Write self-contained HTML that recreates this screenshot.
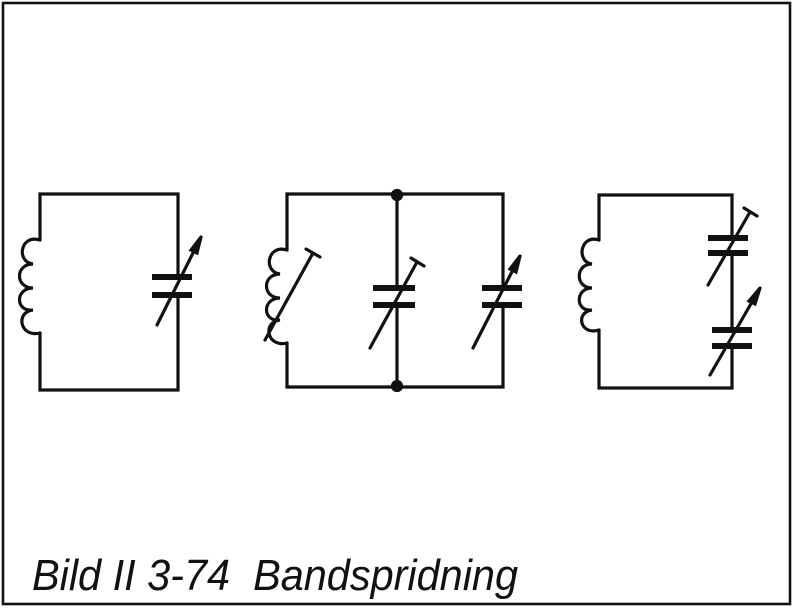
<!DOCTYPE html>
<html><head><meta charset="utf-8"><style>
html,body{margin:0;padding:0;background:#fff;width:795px;height:615px;overflow:hidden}
svg{display:block}
</style></head><body>
<svg width="795" height="615" viewBox="0 0 795 615">
<g fill="none" stroke="#111" stroke-width="3.2" stroke-linecap="round">
<rect x="3" y="3" width="787" height="601" stroke-width="2.6"/>

<!-- circuit 1 -->
<g>
<path d="M40 240 V194 H178 V277 M178 295 V390 H40 V333"/>
<path d="M40 240 C20 234 16 262 33 264 C15 264 15 288 33 288 C15 288 15 312 33 310 C15 312 20 338 40 333"/>
<path stroke-width="6" stroke-linecap="butt" d="M152 277 H192 M152 295 H192"/>
<path d="M157 325 L201 237"/>
<path d="M201 237 L191 250 L197 253 Z" fill="#111"/>
</g>

<!-- circuit 2 -->
<g>
<path d="M287 250 V194 H503 V288 M503 305 V387 H287 V343"/>
<path d="M397 194 V288 M397 305 V387"/>
<circle cx="397" cy="195" r="4.5" fill="#111"/>
<circle cx="397" cy="386" r="4.5" fill="#111"/>
<path d="M287 250 C267 244 263 272 280 274 C262 274 262 298 280 298 C262 298 262 322 280 320 C262 322 267 348 287 343"/>
<path d="M265 340 L313 253 M306 249 L320 257"/>
<path stroke-width="6" stroke-linecap="butt" d="M373 288 H415 M373 305 H415"/>
<path d="M370 348 L417 262 M411 258 L424 266"/>
<path stroke-width="6" stroke-linecap="butt" d="M482 288 H522 M482 305 H522"/>
<path d="M473 348 L520 256"/>
<path d="M520 256 L510 269 L516 272 Z" fill="#111"/>
</g>

<!-- circuit 3 -->
<g>
<path d="M599 240 V195 H732 V238 M732 253 V330 M732 346 V388 H599 V330"/>
<path d="M599 240 C580 234 576 262 592 264 C575 264 575 288 592 288 C575 288 575 312 592 310 C575 312 580 336 599 330"/>
<path stroke-width="6" stroke-linecap="butt" d="M708 238 H748 M708 253 H748"/>
<path d="M708 285 L750 212 M744 208 L757 216"/>
<path stroke-width="6" stroke-linecap="butt" d="M712 330 H752 M712 346 H752"/>
<path d="M710 375 L760 288"/>
<path d="M760 288 L749 301 L755 304 Z" fill="#111"/>
</g>
</g>
<text x="32" y="590" xml:space="preserve" textLength="486" lengthAdjust="spacingAndGlyphs" font-family="Liberation Sans, sans-serif" font-style="italic" font-size="44" fill="#111">Bild II 3-74  Bandspridning</text>
</svg>
</body></html>
